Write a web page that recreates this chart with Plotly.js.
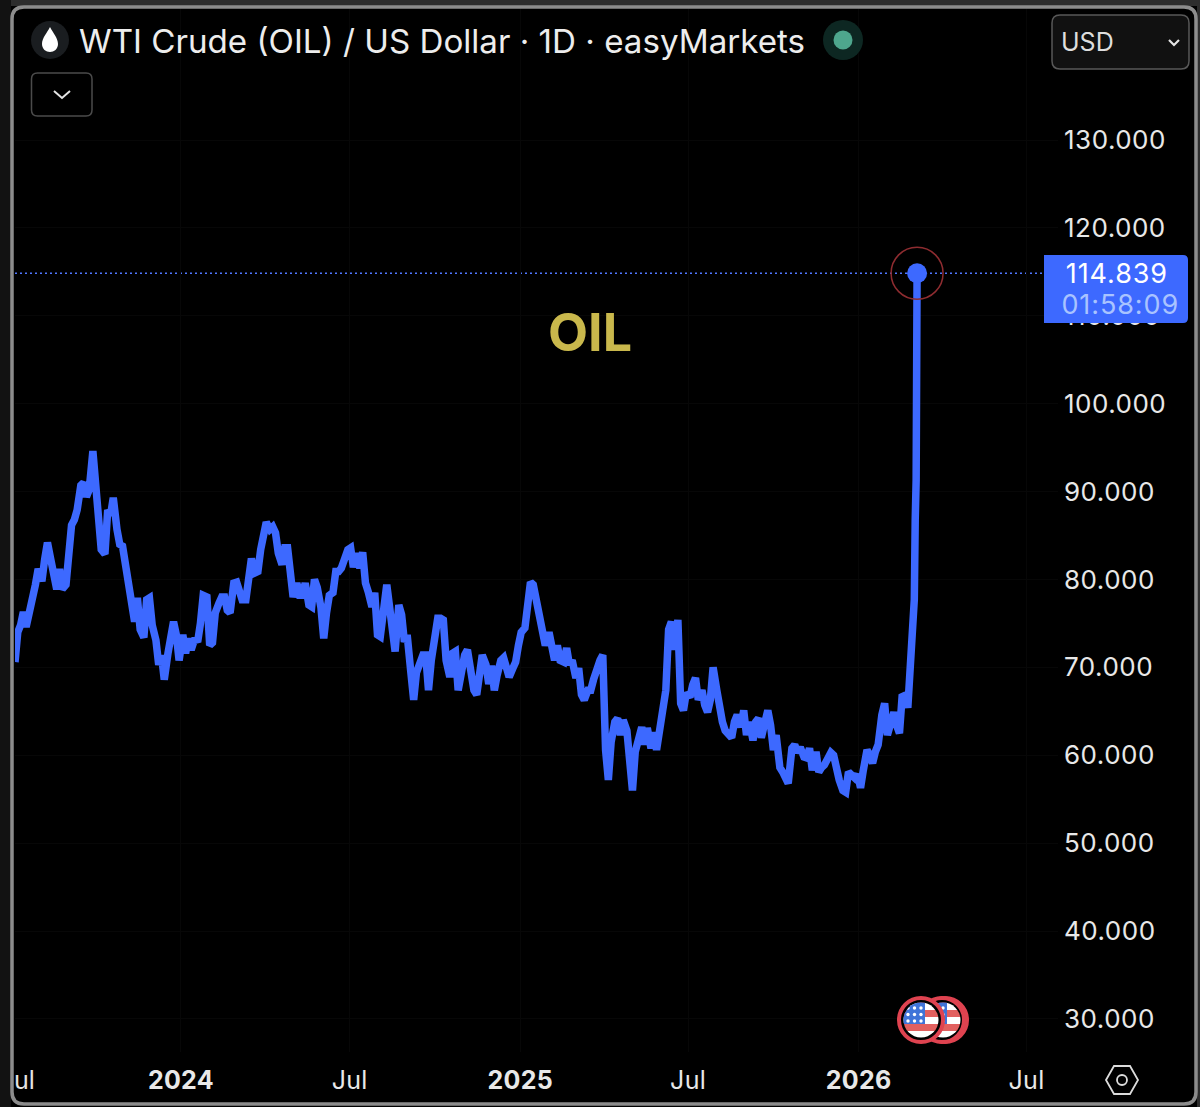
<!DOCTYPE html>
<html>
<head>
<meta charset="utf-8">
<script src="https://cdn.plot.ly/plotly-3.0.1.min.js"></script>
<style>
html,body{margin:0;padding:0;background:#000;overflow:hidden}
#chart{width:1200px;height:1107px}
.ytick text{font-variant-numeric:tabular-nums;letter-spacing:.5px}
.xtick text{letter-spacing:.3px}
.annotation-text{font-variant-numeric:tabular-nums}
.annotation[data-index="3"] text,.annotation[data-index="4"] text{letter-spacing:.9px}
</style>
</head>
<body>
<div id="chart"></div>
<script>
const seriesStart = '2023-07-06';
const sampleStepDays = 3.236;
const sampledPrices = [
70.6,74.0,74.8,76.3,74.6,76.3,77.9,79.4,81.2,79.8,
82.3,84.2,82.6,80.9,78.9,81.2,78.9,79.4,84.5,86.2,
86.8,87.9,90.7,91.0,89.4,90.2,94.6,90.2,88.4,83.4,
82.9,87.9,87.3,89.3,85.7,84.0,83.8,81.7,80.0,77.7,
75.2,77.9,74.3,73.4,77.7,77.9,74.8,73.1,70.3,71.4,
68.6,71.6,73.4,75.2,73.7,70.8,73.7,71.6,73.3,72.0,
73.3,72.9,75.0,78.2,78.0,72.5,72.8,76.2,77.3,78.0,
78.0,76.5,76.2,79.6,79.7,78.5,77.7,77.7,81.2,82.4,
80.7,80.9,83.4,85.7,86.5,85.7,86.0,85.3,83.0,81.7,
83.6,83.6,80.3,78.0,79.6,78.2,78.2,79.6,77.1,76.9,
80.0,79.1,76.8,73.3,76.2,78.2,78.5,80.9,80.9,81.3,
82.2,83.4,83.6,81.4,83.0,81.3,83.1,79.6,78.6,76.9,
78.5,73.7,73.5,77.3,79.4,76.9,73.5,71.8,77.1,76.0,
72.9,73.7,69.4,66.3,69.4,70.6,71.4,71.4,67.4,70.8,
73.5,75.6,75.6,75.4,70.8,68.9,71.6,71.8,67.4,69.9,
71.4,72.0,69.5,67.4,66.9,69.9,71.4,70.3,68.1,70.2,
67.4,69.1,70.8,71.1,69.7,68.9,69.9,70.6,72.5,74.0,
74.5,77.9,79.7,79.4,77.3,75.2,74.0,72.5,74.0,72.2,
70.8,72.5,70.8,70.6,72.2,70.3,70.8,68.8,69.9,66.9,
66.3,67.4,67.4,68.6,69.7,70.8,71.4,60.6,57.2,61.5,
63.8,64.2,62.3,64.0,62.8,58.1,56.0,60.4,62.3,63.2,
61.2,63.1,60.8,62.6,60.6,62.8,64.9,67.4,74.3,75.2,
72.0,75.4,65.9,65.1,67.1,66.6,68.0,68.8,66.3,67.4,
65.7,64.9,66.3,70.0,67.4,64.9,63.8,62.8,62.3,62.0,
63.8,64.6,63.2,65.1,62.3,63.8,61.7,63.8,64.2,62.0,
63.8,65.1,63.4,60.6,62.3,58.6,58.1,57.2,56.8,60.8,
61.2,60.3,60.9,59.8,59.7,60.8,58.3,60.4,58.1,58.6,
58.9,59.5,60.3,60.0,58.1,57.2,56.0,55.8,58.1,57.8,
57.4,57.8,56.3,58.3,60.6,60.0,59.1,60.4,61.2,64.6,
65.9,62.3,63.8,64.9,63.4,62.5,66.9,66.6
];
const spikeDates = ['2026-02-23','2026-02-24','2026-02-26','2026-02-28','2026-03-02','2026-03-03','2026-03-04','2026-03-05'];
const spikePrices = [65.4,67.1,71.6,75.4,77.7,86.8,91.3,114.839];
const lastPriceText = '114.839';
const countdownText = '01:58:09';
const titleText = 'WTI Crude (OIL) / US Dollar · 1D · easyMarkets';
const yTickVals = [30,40,50,60,70,80,90,100,110,120,130];
const yTickText = ['30.000','40.000','50.000','60.000','70.000','80.000','90.000','100.000','110.000','120.000','130.000'];
const xTickVals = ['2024-01-01','2024-07-01','2025-01-01','2025-07-01','2026-01-01','2026-07-01'];
const xTickText = ['<b>2024</b>','Jul','<b>2025</b>','Jul','<b>2026</b>','Jul'];

const W = 1200, H = 1107;
const X = x => x / W, Y = y => 1 - y / H;
const BLUE = '#3d69ff';
const FONT = 'Inter, "Noto Sans", sans-serif';
const startMs = Date.parse(seriesStart + 'T00:00:00Z');
const sampledDates = sampledPrices.map((_, i) => new Date(startMs + i * sampleStepDays * 864e5).toISOString().slice(0, 10));
const dates = sampledDates.concat(spikeDates);
const prices = sampledPrices.concat(spikePrices);
const lastDate = dates[dates.length - 1], lastPrice = prices[prices.length - 1];

const P = s => s.replace(/(-?[\d.]+) (-?[\d.]+)/g, (m, a, b) => X(+a) + ',' + Y(+b));
const circle = (cx, cy, r, fill, line) => ({type:'circle', xref:'paper', yref:'paper', x0:X(cx-r), x1:X(cx+r), y0:Y(cy+r), y1:Y(cy-r), fillcolor:fill, line:line||{width:0}});
const path = (d, fill, color, width) => ({type:'path', xref:'paper', yref:'paper', path:P(d), fillcolor:fill||'rgba(0,0,0,0)', line:color?{color:color,width:width||1}:{width:0}});
const rr = (x0,y0,x1,y1,r) => `M${x0+r} ${y0} L${x1-r} ${y0} Q${x1} ${y0} ${x1} ${y0+r} L${x1} ${y1-r} Q${x1} ${y1} ${x1-r} ${y1} L${x0+r} ${y1} Q${x0} ${y1} ${x0} ${y1-r} L${x0} ${y0+r} Q${x0} ${y0} ${x0+r} ${y0} Z`;

const flagSvg = (rings) => {
  let stripes = '';
  for (let i = 0; i < 7; i++) stripes += `<rect x="0" y="${i*7}" width="48" height="7" fill="${i%2?'#ffffff':'#e2605f'}"/>`;
  let stars = '';
  for (let r = 0; r < 3; r++) for (let c = 0; c < 3; c++) stars += `<circle cx="${11+c*6.5}" cy="${12+r*6.5}" r="1.7" fill="#fff"/>`;
  const ringSvg = rings.map(o => `<circle cx="${30+o}" cy="30" r="22" fill="#000" stroke="#df4350" stroke-width="4"/>`).join('');
  const svg = `<svg xmlns="http://www.w3.org/2000/svg" width="60" height="60" viewBox="0 0 60 60"><defs><clipPath id="c"><circle cx="24" cy="24" r="17.5"/></clipPath></defs>${ringSvg}<g transform="translate(6,6)"><g clip-path="url(#c)">${stripes}<rect x="0" y="0" width="28" height="28" fill="#3f74d8"/>${stars}</g></g></svg>`;
  return 'data:image/svg+xml;utf8,' + encodeURIComponent(svg);
};
const flagImage = (cx, cy, rings) => ({source:flagSvg(rings), xref:'paper', yref:'paper', x:X(cx-30), y:Y(cy-30), sizex:60/W, sizey:60/H, xanchor:'left', yanchor:'top', sizing:'stretch', layer:'above'});

const traces = [
  {type:'scatter', mode:'lines', x:dates, y:prices, line:{color:BLUE, width:7.5, shape:'linear'}, hoverinfo:'skip', showlegend:false},
  {type:'scatter', mode:'markers', x:[lastDate], y:[lastPrice], marker:{size:52, color:'rgba(0,0,0,0)', line:{color:'#8e2c30', width:1.5}}, hoverinfo:'skip', showlegend:false, cliponaxis:false},
  {type:'scatter', mode:'markers', x:[lastDate], y:[lastPrice], marker:{size:20, color:BLUE}, hoverinfo:'skip', showlegend:false, cliponaxis:false}
];

const shapes = [
  {type:'rect', xref:'paper', yref:'paper', x0:0, x1:1, y0:Y(6), y1:1, fillcolor:'#2d2d2d', line:{width:0}},
  {type:'rect', xref:'paper', yref:'paper', x0:X(1197), x1:1, y0:0, y1:1, fillcolor:'#2d2d2d', line:{width:0}},
  {type:'rect', xref:'paper', yref:'paper', x0:0, x1:X(11), y0:0, y1:1, fillcolor:'#121212', line:{width:0}},
  path(rr(12,7,1196,1104,12), null, '#8c8c8c', 3.5),
  {type:'line', xref:'paper', yref:'y', x0:X(15), x1:X(1044), y0:lastPrice, y1:lastPrice, line:{color:'#4f76ff', width:1.5, dash:'2px,3px'}, layer:'below'},
  path('M1044 255 L1183 255 Q1188 255 1188 260 L1188 318 Q1188 323 1183 323 L1044 323 Z', BLUE),
  circle(50, 40, 19, '#1a1d20'),
  path('M50 27 C47 33 42 38 42 44 C42 49 46 52 50 52 C54 52 58 49 58 44 C58 38 53 33 50 27 Z', '#ffffff'),
  circle(843, 40, 20, '#0d2722'),
  circle(843, 40, 9.5, '#4ea68d'),
  path(rr(31.5,73,92,116,6), '#000000', '#4b4b4b', 1.5),
  path('M54 91 L62 98 L70 91', null, '#e4e4e4', 2),
  path(rr(1052,15,1189,69,8), '#111111', '#585858', 1.5),
  path('M1169 40 L1174 45 L1179 40', null, '#e4e4e4', 2.2),
  path('M1106 1080 L1114 1066 L1130 1066 L1138 1080 L1130 1094 L1114 1094 Z', null, '#dcdcdc', 1.8),
  circle(1122, 1080, 5, 'rgba(0,0,0,0)', {color:'#dcdcdc', width:1.8})
];

const note = (text, x, y, size, color, anchor, extra) => Object.assign({
  text, xref:'paper', yref:'paper', x:X(x), y:Y(y), xanchor:anchor||'left', yanchor:'middle',
  showarrow:false, font:{family:FONT, size, color}, borderpad:0, borderwidth:0
}, extra||{});

const annotations = [
  note(titleText, 79, 41, 33.15, '#ededed'),
  note('USD', 1061, 42, 25, '#dedede'),
  note('<b>OIL</b>', 590, 333, 52, '#c9b84c', 'center'),
  note(lastPriceText, 1117, 274, 27, '#ffffff', 'center'),
  note(countdownText, 1120, 304, 27, '#a9c3ff', 'center'),
  note('ul', 14, 1080, 25, '#e4e4e4')
];

const layout = {
  width:W, height:H, margin:{l:0,r:0,t:0,b:0,pad:0},
  paper_bgcolor:'#000', plot_bgcolor:'#000', showlegend:false,
  font:{family:FONT, color:'#e8e8e8'},
  xaxis:{type:'date', domain:[X(15), X(1058)], range:['2023-07-06','2026-08-04'], tickmode:'array', tickvals:xTickVals, ticktext:xTickText,
    tickfont:{family:FONT, size:25, color:'#e8e8e8'}, showgrid:true, gridcolor:'#070707', gridwidth:1, zeroline:false, showline:false, ticks:'outside', ticklen:0, ticklabelstandoff:6, anchor:'y', fixedrange:true},
  yaxis:{type:'linear', domain:[Y(1052), Y(8)], range:[26.24,145.02], side:'right', tickmode:'array', tickvals:yTickVals, ticktext:yTickText,
    tickfont:{family:FONT, size:26, color:'#e8e8e8'}, showgrid:true, gridcolor:'#070707', gridwidth:1, zeroline:false, showline:false, ticks:'', ticklabelstandoff:5, anchor:'x', fixedrange:true},
  shapes, annotations,
  images:[flagImage(943, 1020, [2, -1]), flagImage(921, 1020, [0])]
};
Plotly.newPlot('chart', traces, layout, {displayModeBar:false, staticPlot:true});
</script>
</body>
</html>
